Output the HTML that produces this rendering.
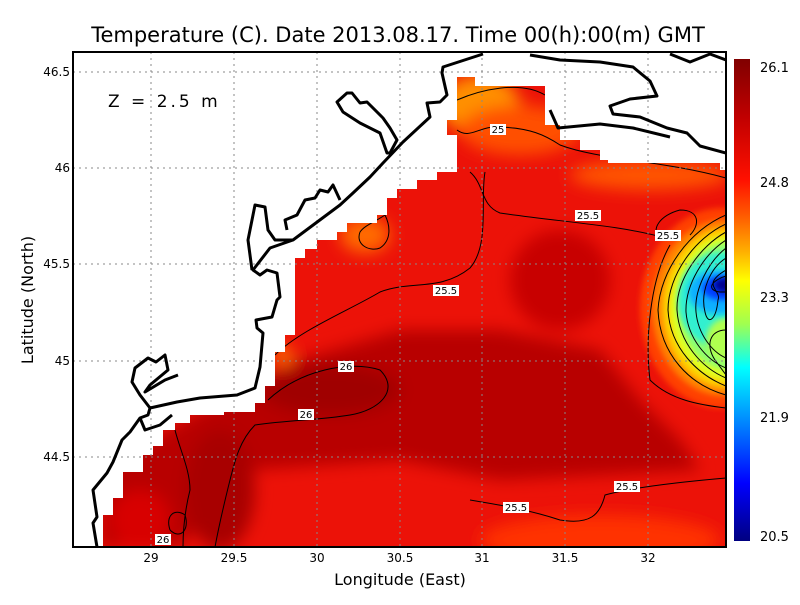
<!DOCTYPE html>
<html><head><meta charset="utf-8"><style>
body{margin:0;background:#fff}
svg text{font-family:"DejaVu Sans","Liberation Sans",sans-serif;}
</style></head><body>
<svg width="800" height="600" viewBox="0 0 800 600" xmlns="http://www.w3.org/2000/svg">
<defs>
<clipPath id="pc"><rect x="73" y="52" width="653" height="495"/></clipPath>
<clipPath id="dc"><path id="dp" d="M103,547 L103,515 L113,515 L113,498 L123,498 L123,472 L143,472 L143,455 L153,455 L153,446 L163,446 L163,430 L175,430 L175,423 L190,423 L190,415 L224,415 L224,412 L255,412 L255,403 L265,403 L265,386 L275,386 L275,352 L285,352 L285,335 L295,335 L295,258 L305,258 L305,249 L317,249 L317,240 L337,240 L337,232 L347,232 L347,223 L377,223 L377,215 L387,215 L387,198 L397,198 L397,189 L417,189 L417,180 L437,180 L437,172 L457,172 L457,135 L447,135 L447,120 L457,120 L457,95 L457,77 L475,77 L475,86 L545,86 L545,125 L560,125 L560,140 L580,140 L580,150 L600,150 L600,160 L608,160 L608,163 L720,163 L720,170 L726,170 L726,547 Z"/></clipPath>
<linearGradient id="cb" x1="0" y1="0" x2="0" y2="1">
<stop offset="0" stop-color="#800000"/><stop offset="0.12" stop-color="#c00000"/><stop offset="0.25" stop-color="#ff1000"/><stop offset="0.33" stop-color="#ff6000"/><stop offset="0.4" stop-color="#ffb000"/><stop offset="0.46" stop-color="#ffff00"/><stop offset="0.55" stop-color="#a0ff50"/><stop offset="0.64" stop-color="#00ffff"/><stop offset="0.76" stop-color="#0080ff"/><stop offset="0.88" stop-color="#0000ff"/><stop offset="1" stop-color="#000080"/>
</linearGradient>
<filter id="bl" x="-50%" y="-50%" width="200%" height="200%"><feGaussianBlur stdDeviation="8"/></filter>
<filter id="bl2" x="-50%" y="-50%" width="200%" height="200%"><feGaussianBlur stdDeviation="3"/></filter>
</defs>
<rect width="800" height="600" fill="#fff"/>
<g clip-path="url(#dc)">
<rect x="73" y="52" width="653" height="495" fill="#ec1208"/>
<g filter="url(#bl)">
<ellipse cx="480" cy="105" rx="40" ry="30" fill="#ff9000"/>
<ellipse cx="520" cy="130" rx="60" ry="25" fill="#ff5000"/>
<ellipse cx="650" cy="175" rx="80" ry="15" fill="#ff5500"/>
<ellipse cx="365" cy="235" rx="25" ry="18" fill="#ff6a00"/>
<path d="M100,547 L100,470 L200,410 L300,360 L400,330 L500,330 L600,350 L640,400 L680,440 L700,470 L500,480 L400,460 L250,470 L180,547 Z" fill="#b80000"/>
<ellipse cx="330" cy="390" rx="70" ry="25" fill="#a00000"/>
<ellipse cx="220" cy="490" rx="35" ry="60" fill="#a80000"/>
<ellipse cx="560" cy="280" rx="50" ry="50" fill="#c80000"/>
<ellipse cx="600" cy="540" rx="120" ry="25" fill="#ff3000"/>
<ellipse cx="140" cy="520" rx="30" ry="30" fill="#d80000"/>
<ellipse cx="283" cy="355" rx="8" ry="10" fill="#ff8000"/>
</g>
<g>
<ellipse cx="722" cy="308" rx="82" ry="100" fill="#ff4000" filter="url(#bl2)"/>
<ellipse cx="724" cy="308" rx="72" ry="88" fill="#ff8000" filter="url(#bl2)"/>
<ellipse cx="726" cy="308" rx="64" ry="80" fill="#ffcc00" filter="url(#bl2)"/>
<ellipse cx="728" cy="308" rx="58" ry="72" fill="#e0ff20" filter="url(#bl2)"/>
<ellipse cx="730" cy="306" rx="52" ry="64" fill="#90ff70" filter="url(#bl2)"/>
<ellipse cx="722" cy="300" rx="44" ry="48" fill="#30f0d0" filter="url(#bl2)"/>
<ellipse cx="728" cy="340" rx="22" ry="22" fill="#b0ff50" filter="url(#bl2)"/>
<ellipse cx="718" cy="292" rx="30" ry="22" fill="#10b0ff" filter="url(#bl2)"/>
<ellipse cx="722" cy="288" rx="20" ry="12" fill="#0040ff" filter="url(#bl2)"/>
<ellipse cx="726" cy="285" rx="12" ry="7" fill="#000090" filter="url(#bl2)"/>
</g>
<g fill="none" stroke="#000" stroke-width="1">
<path d="M457,100 C480,90 520,80 545,95"/>
<path d="M457,130 C470,140 480,125 500,127 C530,128 545,135 560,145 C600,160 660,160 726,178"/>
<path d="M470,172 C485,185 480,205 500,213 C560,222 620,225 665,238"/>
<path d="M660,238 C650,230 660,215 680,210 C700,210 700,225 690,235"/>
<path d="M275,355 C300,330 350,310 380,292 C410,280 440,292 470,268 C490,245 480,200 485,172"/>
<path d="M385,215 C375,222 365,225 360,232 C355,245 370,252 380,248 C392,240 390,225 385,215"/>
<path d="M268,400 C300,370 350,360 380,370 C400,390 380,410 350,415 C320,420 290,420 255,425 C240,440 235,460 230,480 C225,500 220,520 215,547"/>
<path d="M175,430 C180,450 190,470 190,490 C185,510 183,530 183,547"/>
<path d="M170,530 C165,515 175,508 185,515 C190,530 180,540 170,530"/>
<path d="M470,500 C500,505 530,510 560,520 C590,525 600,515 605,495 C630,488 680,482 726,478"/>
<path d="M670,245 C650,280 645,340 650,380 C670,400 700,405 726,408"/>
<path d="M726,215 C690,230 660,270 658,310 C660,355 690,385 726,395"/>
<path d="M726,224 C695,238 668,275 668,310 C670,348 698,375 726,386"/>
<path d="M726,232 C700,246 676,280 677,310 C679,343 702,368 726,378"/>
<path d="M726,240 C704,254 685,285 686,312 C688,338 706,360 726,368"/>
<path d="M726,248 C708,262 694,290 696,312 C698,334 712,352 726,358"/>
<path d="M726,258 C710,268 700,292 705,312 C708,326 716,320 718,300 C722,290 700,285 726,270"/>
<path d="M726,276 C712,280 705,290 720,292 L726,292"/>
<path d="M726,330 C710,330 705,345 715,360 L726,375"/>
</g>
</g>
<g stroke="#888" stroke-width="1" stroke-dasharray="2,4" clip-path="url(#pc)">
<line x1="151" y1="52" x2="151" y2="547"/><line x1="234" y1="52" x2="234" y2="547"/><line x1="317" y1="52" x2="317" y2="547"/><line x1="400" y1="52" x2="400" y2="547"/><line x1="482" y1="52" x2="482" y2="547"/><line x1="565" y1="52" x2="565" y2="547"/><line x1="648" y1="52" x2="648" y2="547"/>
<line x1="73" y1="72" x2="726" y2="72"/><line x1="73" y1="168" x2="726" y2="168"/><line x1="73" y1="264" x2="726" y2="264"/><line x1="73" y1="361" x2="726" y2="361"/><line x1="73" y1="457" x2="726" y2="457"/>
</g>
<g fill="none" stroke="#000" stroke-width="3" stroke-linejoin="round" clip-path="url(#pc)">
<path d="M483,54 L443,67 L442,73 L447,95 L440,102 L427,103 L430,117 L403,142 L383,163 L370,177 L353,193 L340,205 L293,240 L270,248 L253,270 L260,275 L267,270 L277,273 L280,297 L277,300 L272,317 L256,320 L257,328 L263,333 L260,367 L255,388 L237,395 L200,398 L177,402 L150,408 L148,415 L140,418 L130,432 L122,440 L113,462 L107,473 L93,490 L97,517 L93,523 L97,547"/>
<path d="M252,270 L248,240 L255,205 L265,207 L268,230 L275,240 L293,240"/>
<path d="M287,230 L285,220 L297,215 L305,200 L315,198 L320,190 L328,192 L333,185 L340,200"/>
<path d="M337,102 L347,93 L352,93 L360,103 L367,102 L383,118 L390,128 L397,140 L390,153 L387,153 L380,133 L360,123 L343,112 Z"/>
<path d="M150,408 L140,395 L132,382 L135,368 L148,358 L156,362 L165,355 L168,370 L150,385 L145,392 L165,380 L178,375"/>
<path d="M140,418 L145,430 L160,425 L172,415"/>
<path d="M530,55 L560,60 L600,62 L633,67 L650,81 L657,96 L630,99 L610,106 L613,114 L640,117 L667,128 L687,133 L700,146 L726,153"/>
<path d="M550,110 L558,128 L600,124 L633,128 L670,137"/>
<path d="M670,54 L690,62 L710,54 L726,60"/>
</g>
<rect x="73" y="52" width="653" height="495" fill="none" stroke="#000" stroke-width="2"/>
<g font-size="10" text-anchor="middle">
<rect x="490" y="124" width="16" height="11" fill="#fff"/><text x="498" y="133">25</text>
<rect x="575" y="210" width="26" height="11" fill="#fff"/><text x="588" y="219">25.5</text>
<rect x="655" y="230" width="26" height="11" fill="#fff"/><text x="668" y="239">25.5</text>
<rect x="433" y="285" width="26" height="11" fill="#fff"/><text x="446" y="294">25.5</text>
<rect x="338" y="361" width="16" height="11" fill="#fff"/><text x="346" y="370">26</text>
<rect x="298" y="409" width="16" height="11" fill="#fff"/><text x="306" y="418">26</text>
<rect x="155" y="534" width="16" height="11" fill="#fff"/><text x="163" y="543">26</text>
<rect x="503" y="502" width="26" height="11" fill="#fff"/><text x="516" y="511">25.5</text>
<rect x="614" y="481" width="26" height="11" fill="#fff"/><text x="627" y="490">25.5</text>
</g>
<text x="108" y="107" font-size="17" letter-spacing="3">Z = 2.5 m</text>
<g font-size="12" text-anchor="middle">
<text x="151" y="562">29</text><text x="234" y="562">29.5</text><text x="317" y="562">30</text><text x="400" y="562">30.5</text><text x="482" y="562">31</text><text x="565" y="562">31.5</text><text x="648" y="562">32</text>
</g>
<g font-size="12" text-anchor="end">
<text x="70" y="76">46.5</text><text x="70" y="172">46</text><text x="70" y="268">45.5</text><text x="70" y="365">45</text><text x="70" y="461">44.5</text>
</g>
<text x="400" y="585" font-size="16" text-anchor="middle">Longitude (East)</text>
<text x="33" y="300" font-size="16" text-anchor="middle" transform="rotate(-90 33 300)">Latitude (North)</text>
<text x="398" y="42" font-size="21" text-anchor="middle">Temperature (C). Date 2013.08.17. Time 00(h):00(m) GMT</text>
<rect x="734" y="59" width="16" height="482" fill="url(#cb)"/>
<g font-size="13">
<text x="760" y="72">26.1</text><text x="760" y="187">24.8</text><text x="760" y="302">23.3</text><text x="760" y="422">21.9</text><text x="760" y="541">20.5</text>
</g>
</svg>
</body></html>
